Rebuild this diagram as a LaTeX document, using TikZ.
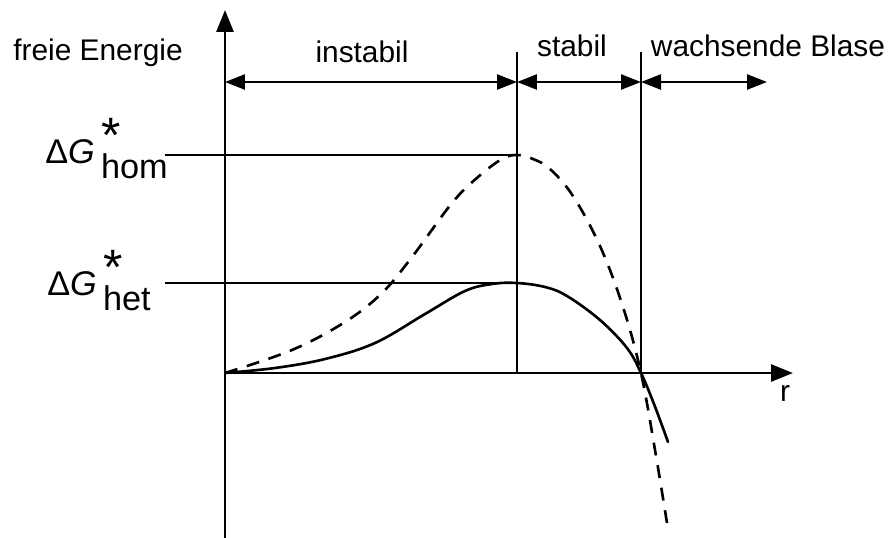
\documentclass[tikz,border=0pt]{standalone}
\usepackage{fontspec}
\setmainfont{Liberation Sans}
\usepackage{graphicx}
\usetikzlibrary{arrows.meta, positioning}

\newcommand{\gstar}[1]{Δ\textit{G}\kern0.18em\rlap{\raisebox{0.3em}{\scalebox{1.45}{*}}}\raisebox{-0.45em}{#1}}

\begin{document}
\begin{tikzpicture}[
  x=0.02cm, y=-0.02cm,
  axisline/.style={line width=1.6pt, -{Triangle[length=0.44cm, width=0.34cm]}},
  rangearrow/.style={line width=1.4pt,
    {Triangle[length=0.4cm, width=0.3cm]}-{Triangle[length=0.4cm, width=0.3cm]}},
  guideline/.style={line width=0.8pt},
  hetcurve/.style={line width=1.5pt, line cap=round},
  homcurve/.style={line width=1.5pt, dash pattern=on 7.4pt off 5.6pt},
  labeltext/.style={inner sep=0pt, font=\fontsize{17}{20}\selectfont},
  barriertext/.style={inner sep=0pt, font=\fontsize{19.5}{23}\selectfont},
]
\useasboundingbox (0,0) rectangle (890,538);

% =================================================================
% AXES
% =================================================================
\coordinate (origin) at (225,373);
\coordinate (ybot) at (225,538);
\coordinate (ytip) at (225,10);
\coordinate (xtip) at (793,373);
\draw[axisline] (ybot) -- (ytip);
\draw[axisline] (origin) -- (xtip);
\node[labeltext] (rlabel) at (785,393) {r};
\node[labeltext, anchor=base west] (energy) at (13,60) {freie Energie};

% =================================================================
% RANGES: critical radius and zero crossing
% =================================================================
\coordinate (crittop) at (517,52);
\coordinate (critbot) at (517,373);
\coordinate (zerotop) at (641,52);
\coordinate (zerobot) at (641,373);
\coordinate (growend) at (767,82);
\draw[guideline] (crittop) -- (critbot);
\draw[guideline] (zerotop) -- (zerobot);

\draw[rangearrow] (origin |- growend) -- (crittop |- growend);
\draw[rangearrow] (crittop |- growend) -- (zerotop |- growend);
\draw[rangearrow] (zerotop |- growend) -- (growend);

\node[labeltext, anchor=base] (instabil) at (362,62) {instabil};
\node[labeltext, anchor=base] (stabil) at (572,56) {stabil};
\node[labeltext, anchor=base] (blase) at (768,56) {wachsende Blase};

% =================================================================
% BARRIER HEIGHTS
% =================================================================
\coordinate (homstart) at (165,155);
\coordinate (homtop) at (517,155);
\coordinate (hetstart) at (165,283);
\coordinate (hettop) at (517,283);
\draw[guideline] (homstart) -- (homtop);
\draw[guideline] (hetstart) -- (hettop);
\node[barriertext, anchor=base west] (homlabel) at (45,163) {\gstar{hom}};
\node[barriertext, anchor=base west] (hetlabel) at (47,295) {\gstar{het}};

% =================================================================
% CURVES
% =================================================================
\draw[homcurve] plot[smooth, tension=0.6] coordinates {
  (225,373) (292,350) (345,322) (382,293) (412,257) (452,203)
  (478,177) (502,159) (517,155) (533,159) (550,169) (573,196)
  (600,246) (623,307) (641,373) (655,450) (667,523)};
\draw[hetcurve] plot[smooth, tension=0.6] coordinates {
  (225,373) (275,368) (325,359) (375,343) (425,314) (465,291)
  (492,284) (517,283) (545,287) (567,296) (600,320) (627,348)
  (641,373) (654,404) (668,442)};

\end{tikzpicture}
\end{document}
